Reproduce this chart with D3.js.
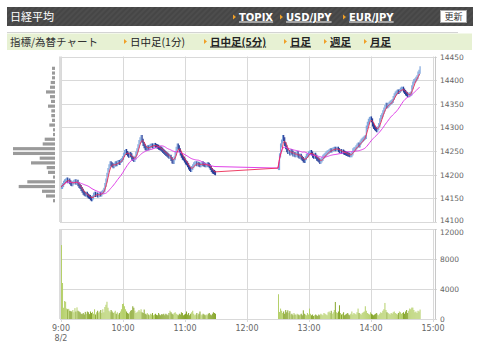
<!DOCTYPE html>
<html>
<head>
<meta charset="utf-8">
<script src="https://cdn.jsdelivr.net/npm/d3@7"></script>
<style>
body { margin: 0; background: #fff; }
svg { display: block; font-family: "DejaVu Sans", sans-serif; }
.jp { font-family: "Noto Sans CJK JP", sans-serif; }
</style>
</head>
<body>
<svg id="chart" width="480" height="351"></svg>
<script>
// 1-minute closes, morning session from 9:00, afternoon from 12:30
var amClose = [
  14174, 14178, 14183, 14186, 14188, 14190, 14186, 14188, 14184, 14181,
  14180, 14183, 14185, 14186, 14183, 14185, 14180, 14176, 14174, 14170,
  14166, 14162, 14160, 14158, 14160, 14156, 14154, 14153, 14150, 14148,
  14152, 14158, 14160, 14157, 14158, 14156, 14157, 14160, 14158, 14162,
  14164, 14168, 14178, 14188, 14200, 14210, 14218, 14224, 14222, 14220,
  14218, 14221, 14224, 14222, 14226, 14227, 14225, 14229, 14231, 14235,
  14242, 14248, 14250, 14246, 14243, 14240, 14244, 14241, 14236, 14233,
  14231, 14236, 14245, 14252, 14260, 14269, 14275, 14280, 14272, 14265,
  14260, 14256, 14255, 14258, 14256, 14259, 14261, 14262, 14260, 14262,
  14263, 14261, 14260, 14259, 14257, 14256, 14255, 14253, 14250, 14248,
  14246, 14244, 14242, 14240, 14238, 14238, 14233, 14228, 14227, 14235,
  14245, 14255, 14262, 14258, 14252, 14245, 14240, 14236, 14234, 14230,
  14226, 14224, 14220, 14215, 14212, 14210, 14214, 14218, 14222, 14224,
  14224, 14222, 14223, 14221, 14220, 14222, 14224, 14222, 14221, 14220,
  14220, 14222, 14221, 14218, 14214, 14210, 14207, 14206, 14204, 14203
];
var pmClose = [
  14214, 14241, 14262, 14270, 14280, 14275, 14265, 14258, 14252, 14248,
  14248, 14245, 14250, 14247, 14243, 14244, 14241, 14243, 14246, 14240,
  14238, 14240, 14236, 14233, 14230, 14229, 14235, 14240, 14241, 14245,
  14247, 14248, 14245, 14240, 14238, 14242, 14238, 14234, 14232, 14230,
  14227, 14230, 14233, 14238, 14240, 14242, 14245, 14247, 14248, 14250,
  14252, 14251, 14253, 14254, 14255, 14254, 14255, 14255, 14252, 14250,
  14250, 14248, 14249, 14247, 14246, 14245, 14244, 14243, 14242, 14241,
  14241, 14245, 14252, 14254, 14255, 14258, 14262, 14264, 14262, 14268,
  14272, 14274, 14276, 14278, 14280, 14300, 14308, 14314, 14318, 14319,
  14315, 14306, 14301, 14298, 14296, 14294, 14298, 14305, 14315, 14322,
  14326, 14332, 14338, 14343, 14348, 14345, 14347, 14350, 14352, 14354,
  14356, 14362, 14368, 14372, 14374, 14376, 14375, 14377, 14380, 14382,
  14382, 14378, 14375, 14372, 14370, 14368, 14368, 14370, 14372, 14385,
  14393, 14398, 14400, 14403, 14406, 14414, 14418, 14425
];
var amVol = [
  9860, 4800, 1500, 2400, 2300, 1400, 1300, 1350, 1100, 1050,
  1000, 1200, 900, 1450, 1000, 1550, 1100, 1000, 900, 700,
  650, 800, 600, 950, 700, 1000, 900, 650, 1000, 800,
  950, 700, 1300, 600, 900, 1100, 850, 1000, 1200, 800,
  1300, 900, 1600, 1900, 2300, 1500, 1100, 900, 1200, 1000,
  800, 900, 1100, 700, 900, 600, 800, 1000, 1300, 2000,
  2060, 1700, 1300, 1000, 800, 700, 900, 1100, 1200, 1700,
  1500, 1100, 800, 900, 1000, 1200, 1000, 1300, 900, 800,
  1260, 700, 600, 800, 600, 500, 700, 600, 800, 500,
  600, 700, 550, 500, 800, 600, 500, 650, 600, 700,
  500, 700, 600, 500, 800, 1100, 900, 700, 600, 800,
  900, 700, 600, 500, 700, 600, 900, 800, 500, 600,
  700, 1000, 600, 800, 500, 700, 900, 1100, 700, 500,
  600, 800, 500, 700, 1000, 600, 500, 700, 600, 500,
  600, 500, 700, 800, 600, 500, 700, 900, 800, 700
];
var pmVol = [
  3300, 940, 1390, 1100, 800, 1000, 700, 1200, 900, 1160,
  800, 1050, 600, 700, 500, 800, 600, 500, 700, 600,
  500, 600, 700, 500, 1160, 700, 600, 500, 800, 600,
  1390, 700, 500, 600, 400, 500, 600, 500, 400, 600,
  500, 700, 600, 500, 800, 700, 600, 500, 900, 1000,
  800, 1100, 700, 900, 1200, 2270, 900, 800, 1000, 1830,
  800, 600, 700, 900, 500, 600, 700, 800, 600, 500,
  700, 1000, 600, 800, 700, 600, 900, 1390, 800, 700,
  600, 800, 900, 1000, 1700, 1100, 800, 700, 600, 900,
  700, 600, 500, 600, 700, 800, 600, 500, 700, 900,
  800, 1100, 1300, 2140, 1200, 900, 800, 700, 600, 800,
  700, 900, 1000, 800, 700, 600, 800, 1000, 900, 700,
  800, 900, 700, 1000, 1200, 800, 1100, 1400, 1300, 1520,
  1520, 1200, 900, 1000, 800, 1100, 1000, 1260
];
var amStart = 0, pmStart = 210;   // minutes after 9:00

// volume by price (10 yen bins)
var profilePrice = [14425, 14415, 14405, 14395, 14385, 14375, 14365, 14355, 14345, 14335,
  14325, 14315, 14305, 14295, 14285, 14275, 14265, 14255, 14245, 14235,
  14225, 14215, 14205, 14195, 14185, 14175, 14165, 14155, 14145];
var profileVol = [30, 30, 30, 43, 50, 90, 50, 40, 70, 37,
  37, 30, 57, 20, 20, 103, 123, 420, 420, 153,
  240, 83, 70, 20, 277, 363, 130, 90, 20];

var priceTicks = [14100, 14150, 14200, 14250, 14300, 14350, 14400, 14450];
var volTicks = [0, 4000, 8000, 12000];
var timeTicks = [0, 60, 120, 180, 240, 300, 360];
var timeLabels = ["9:00", "10:00", "11:00", "12:00", "13:00", "14:00", "15:00"];
var headLinks = ["TOPIX", "USD/JPY", "EUR/JPY"];
var navLinks = ["日中足(1分)", "日中足(5分)", "日足", "週足", "月足"];

var svg = d3.select("#chart");

var x = d3.scaleLinear().domain([0, 360]).range([61, 433]);
var y = d3.scaleLinear().domain([14100, 14450]).range([222, 56.5]);
var yv = d3.scaleLinear().domain([0, 12000]).range([319, 229]);
var xp = d3.scaleLinear().domain([0, 420]).range([0, 42]);

// ---- header bars
var defs = svg.append("defs");
var pat = defs.append("pattern")
    .attr("id", "stripe")
    .attr("width", 4).attr("height", 4)
    .attr("patternUnits", "userSpaceOnUse")
    .attr("patternTransform", "rotate(45)");
pat.append("rect").attr("width", 4).attr("height", 4).attr("fill", "#464646");
pat.append("line").attr("x1", 1).attr("y1", 0).attr("x2", 1).attr("y2", 4)
    .attr("stroke", "#525252").attr("stroke-width", 1.2);

svg.append("rect").attr("x", 7).attr("y", 7).attr("width", 466).attr("height", 19)
    .attr("fill", "url(#stripe)");
svg.append("text").attr("class", "jp")
    .attr("x", 10).attr("y", 21)
    .style("font-size", "11px").attr("fill", "#fff")
    .text("日経平均");

function tri(g, cx, cy) {
    g.append("path")
        .attr("d", "M" + cx + "," + (cy - 2.5) + "L" + (cx + 3) + "," + cy + "L" + cx + "," + (cy + 2.5) + "Z")
        .attr("fill", "#f0a028");
}

var headX = [239, 286, 349];
headLinks.forEach(function(t, i) {
    tri(svg, headX[i] - 6, 17);
    svg.append("text")
        .attr("x", headX[i]).attr("y", 20.5)
        .style("font-size", "10px").style("font-weight", "bold")
        .style("text-decoration", "underline")
        .attr("fill", "#fff")
        .text(t);
});

svg.append("rect").attr("x", 440.5).attr("y", 10.5).attr("width", 26).attr("height", 12)
    .attr("fill", "#fff").attr("stroke", "#aaa");
svg.append("text").attr("class", "jp")
    .attr("x", 453.5).attr("y", 20)
    .attr("text-anchor", "middle")
    .style("font-size", "9px").attr("fill", "#333")
    .text("更新");

svg.append("line").attr("x1", 7).attr("x2", 458).attr("y1", 32.5).attr("y2", 32.5)
    .attr("stroke", "#d4d4d4");
svg.append("rect").attr("x", 7).attr("y", 33.5).attr("width", 465).attr("height", 16.5)
    .attr("fill", "#e7f1d3");
svg.append("text").attr("class", "jp")
    .attr("x", 10).attr("y", 45.5)
    .style("font-size", "10.5px").attr("fill", "#333")
    .text("指標/為替チャート");

var navX = [130, 210, 290, 330, 370];
navLinks.forEach(function(t, i) {
    tri(svg, navX[i] - 6, 41.5);
    svg.append("text").attr("class", "jp")
        .attr("x", navX[i]).attr("y", 45.5)
        .style("font-size", "10.5px")
        .style("font-weight", i == 0 ? "normal" : "bold")
        .style("text-decoration", i == 0 ? "none" : "underline")
        .attr("fill", "#222")
        .text(t);
});

// ---- grids
var grid = svg.append("g").attr("stroke", "#d9d9d9").attr("stroke-width", 1);

grid.selectAll(".hp").data(priceTicks).join("line")
    .attr("x1", 60).attr("x2", 437)
    .attr("y1", d => Math.round(y(d)) + 0.5).attr("y2", d => Math.round(y(d)) + 0.5);
grid.selectAll(".hv").data(volTicks).join("line")
    .attr("x1", 60).attr("x2", 437)
    .attr("y1", d => Math.round(yv(d)) + 0.5).attr("y2", d => Math.round(yv(d)) + 0.5);
grid.selectAll(".vp").data(timeTicks).join("line")
    .attr("x1", d => Math.round(x(d)) + 0.5).attr("x2", d => Math.round(x(d)) + 0.5)
    .attr("y1", y(14450)).attr("y2", y(14100));
grid.selectAll(".vv").data(timeTicks).join("line")
    .attr("x1", d => Math.round(x(d)) + 0.5).attr("x2", d => Math.round(x(d)) + 0.5)
    .attr("y1", yv(12000)).attr("y2", yv(0) + 3);

// frame lines
[[y(14450), y(14100)], [yv(12000), yv(0)]].forEach(function(r) {
    svg.append("line").attr("x1", 60).attr("x2", 60).attr("y1", r[0]).attr("y2", r[1])
        .attr("stroke", "#dcdcdc").attr("stroke-width", 2);
    svg.append("line").attr("x1", 435.5).attr("x2", 435.5).attr("y1", r[0]).attr("y2", r[1])
        .attr("stroke", "#c8c8c8");
});

// ---- axes labels
svg.append("g").selectAll("text").data(priceTicks).join("text")
    .attr("x", 440).attr("y", d => y(d) + (d == 14100 ? 1 : 3))
    .style("font-size", "7.5px").attr("fill", "#666")
    .text(d => d);
svg.append("g").selectAll("text").data(volTicks).join("text")
    .attr("x", 440).attr("y", d => yv(d) + (d == 12000 ? 6 : 3))
    .style("font-size", "7.5px").attr("fill", "#666")
    .text(d => d);
svg.append("g").selectAll("text").data(timeTicks).join("text")
    .attr("x", d => x(d)).attr("y", 331)
    .attr("text-anchor", "middle")
    .style("font-size", "8px").attr("fill", "#666")
    .text((d, i) => timeLabels[i]);
svg.append("text").attr("x", x(0)).attr("y", 341)
    .attr("text-anchor", "middle")
    .style("font-size", "8px").attr("fill", "#666")
    .text("8/2");

// ---- data
function session(closes, vols, start) {
    return closes.map(function(c, i) {
        return {m: start + i, c: c, o: i == 0 ? c : closes[i - 1], v: vols[i]};
    });
}
function movingAvg(arr, n) {
    return arr.map((d, i) => d3.mean(arr.slice(Math.max(0, i - n + 1), i + 1)));
}
var am = session(amClose, amVol, amStart);
var pm = session(pmClose, pmVol, pmStart);
var bars = am.concat(pm);

var ma5 = movingAvg(amClose, 5).concat(movingAvg(pmClose, 5));
var ma25 = movingAvg(amClose, 25).concat(movingAvg(pmClose, 25));

// volume profile on the left
svg.append("g").selectAll("rect").data(profilePrice).join("rect")
    .attr("x", (d, i) => 55 - xp(profileVol[i]))
    .attr("y", d => y(d) - 1.6)
    .attr("width", (d, i) => xp(profileVol[i]))
    .attr("height", 3.2)
    .attr("fill", "#9a9a9a");

// volume bars
svg.append("g").selectAll("rect").data(bars).join("rect")
    .attr("x", d => x(d.m))
    .attr("y", d => yv(d.v))
    .attr("width", 1)
    .attr("height", d => yv(0) - yv(d.v))
    .attr("fill", d => d.c >= d.o ? "#b5d06a" : "#86a62a");

// candles
svg.append("g").selectAll("line").data(bars).join("line")
    .attr("x1", d => x(d.m) + 0.5).attr("x2", d => x(d.m) + 0.5)
    .attr("y1", d => y(Math.max(d.o, d.c)) - 2)
    .attr("y2", d => y(Math.min(d.o, d.c)) + 2)
    .attr("stroke", d => d.c >= d.o ? "#7fa6dc" : "#2a3f99")
    .attr("stroke-width", 1.2);

var line = d3.line()
    .x((d, i) => x(bars[i].m))
    .y(d => y(d));

svg.append("path").datum(ma25)
    .attr("d", line)
    .attr("fill", "none").attr("stroke", "#e040e8").attr("stroke-width", 1);
svg.append("path").datum(ma5)
    .attr("d", line)
    .attr("fill", "none").attr("stroke", "#ec2a55").attr("stroke-width", 0.9);
</script>
</body>
</html>
